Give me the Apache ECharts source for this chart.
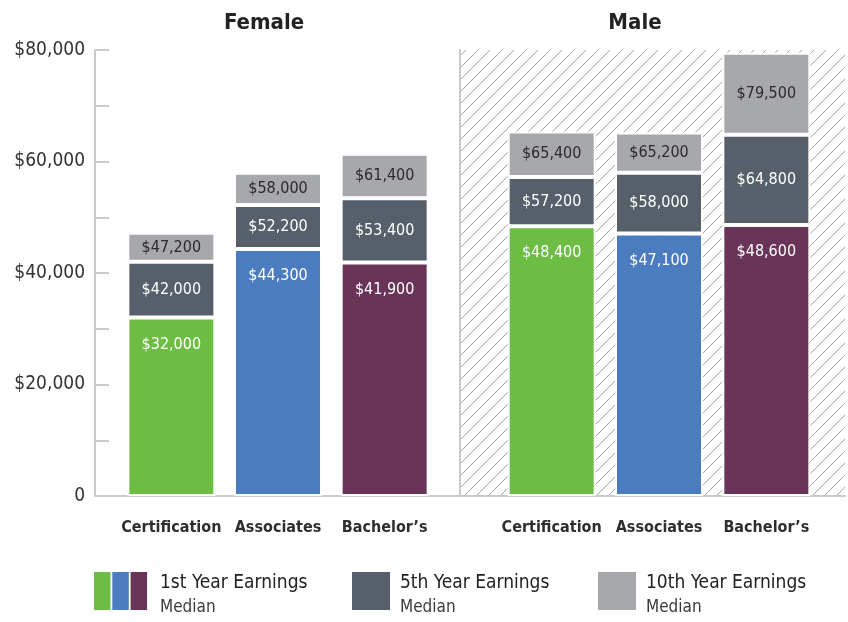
<!DOCTYPE html>
<html>
<head>
<meta charset="utf-8">
<script src="https://cdn.jsdelivr.net/npm/echarts@6/dist/echarts.min.js"></script>
<style>
  html, body { margin: 0; padding: 0; background: #fff; }
  #chart { width: 848px; height: 622px; }
</style>
</head>
<body>
<div id="chart"></div>
<script>
const FONT = "'Liberation Sans Narrow', 'DejaVu Sans Condensed', 'Roboto', sans-serif";

// categories and values (cumulative medians, as printed on the bars)
const categories = ['Certification', 'Associates', 'Bachelor\u2019s'];
const female1st = [32000, 44300, 41900];
const female5th = [42000, 52200, 53400];
const female10th = [47200, 58000, 61400];
const male1st = [48400, 47100, 48600];
const male5th = [57200, 58000, 64800];
const male10th = [65400, 65200, 79500];
const yTicks = [0, 20000, 40000, 60000, 80000];

const firstColors = ['#6dbd45', '#4a7cbf', '#6a3459'];
const darkGray = '#57606a';
const lightGray = '#a7a8ac';

const money = (v) => (v === 0 ? '0' : '$' + v.toLocaleString('en-US'));

function hatchPattern() {
  const c = document.createElement('canvas');
  c.width = 12;
  c.height = 12;
  const ctx = c.getContext('2d');
  ctx.strokeStyle = '#a5a5a5';
  ctx.lineWidth = 1;
  ctx.beginPath();
  ctx.moveTo(-1, 13);
  ctx.lineTo(13, -1);
  ctx.stroke();
  return { image: c, repeat: 'repeat' };
}

function stackSeries(stack, axis, first, fifth, tenth) {
  const base = {
    type: 'bar',
    stack,
    xAxisIndex: axis,
    yAxisIndex: axis,
    barWidth: 88,
    itemStyle: { borderColor: '#fff', borderWidth: 2 },
  };
  const lbl = { show: true, fontFamily: FONT, fontSize: 16 };
  return [
    {
      ...base,
      name: '1st Year Earnings',
      data: first,
      itemStyle: { ...base.itemStyle, color: (p) => firstColors[p.dataIndex] },
      label: { ...lbl, position: 'insideTop', distance: 19, color: '#fff',
        formatter: (p) => money(first[p.dataIndex]) },
    },
    {
      ...base,
      name: '5th Year Earnings',
      data: fifth.map((v, i) => v - first[i]),
      itemStyle: { ...base.itemStyle, color: darkGray },
      label: { ...lbl, position: 'inside', color: '#fff',
        formatter: (p) => money(fifth[p.dataIndex]) },
    },
    {
      ...base,
      name: '10th Year Earnings',
      data: tenth.map((v, i) => v - fifth[i]),
      itemStyle: { ...base.itemStyle, color: lightGray },
      label: { ...lbl, position: 'inside', color: '#2b2b2b',
        formatter: (p) => money(tenth[p.dataIndex]) },
    },
  ];
}

const hiddenY = { type: 'value', min: 0, max: 80000, show: false };
const catAxis = (gridIndex) => ({
  type: 'category',
  gridIndex,
  data: categories,
  axisLine: { show: false },
  axisTick: { show: false },
  axisLabel: { interval: 0, margin: 24, fontFamily: FONT, fontSize: 16, fontWeight: 'bold', color: '#2e2e2e' },
});

function legendItem(x, swatches, title) {
  const multi = swatches.length > 1;
  const children = swatches.map((col, i) => ({
    type: 'rect',
    shape: { x: i * 18.3, y: 0, width: multi ? 16.5 : 38, height: 38 },
    style: { fill: col },
  }));
  const tx = multi ? 66 : 48;
  children.push({
    type: 'text', x: tx, y: 2,
    style: { text: title, fontFamily: FONT, fontSize: 19, fontWeight: 500, fill: '#222' },
  });
  children.push({
    type: 'text', x: tx, y: 27,
    style: { text: 'Median', fontFamily: FONT, fontSize: 17, fill: '#3a3a3a' },
  });
  return { type: 'group', left: x, top: 572, children };
}

const chart = echarts.init(document.getElementById('chart'));
chart.setOption({
  backgroundColor: '#fff',
  animation: false,
  title: [
    { text: 'Female', left: 259, top: 7, textAlign: 'center',
      textStyle: { fontFamily: FONT, fontSize: 22, fontWeight: 'bold', color: '#222' } },
    { text: 'Male', left: 630, top: 7, textAlign: 'center',
      textStyle: { fontFamily: FONT, fontSize: 22, fontWeight: 'bold', color: '#222' } },
  ],
  grid: [
    { left: 95, right: 3, top: 50, bottom: 126 },
    { left: 118, width: 320, top: 50, bottom: 126 },
    { left: 460, right: 3, top: 50, bottom: 126, show: true, borderWidth: 0,
      backgroundColor: hatchPattern() },
    { left: 498, width: 322, top: 50, bottom: 126 },
  ],
  xAxis: [
    { type: 'value', gridIndex: 0, min: 0, max: 1,
      axisLine: { show: true, onZero: false, lineStyle: { color: '#c9cacc', width: 2 } },
      axisTick: { show: false }, axisLabel: { show: false }, splitLine: { show: false } },
    catAxis(1),
    { type: 'value', gridIndex: 2, min: 0, max: 1, show: false },
    catAxis(3),
  ],
  yAxis: [
    { type: 'value', gridIndex: 0, min: 0, max: 80000, interval: 20000,
      axisLine: { show: true, lineStyle: { color: '#c9cacc', width: 2 } },
      axisTick: { show: true, inside: true, length: 14, lineStyle: { color: '#c9cacc', width: 2 } },
      minorTick: { show: true, splitNumber: 2, length: 14, lineStyle: { color: '#c9cacc', width: 2 } },
      splitLine: { show: false },
      axisLabel: { margin: 10, fontFamily: FONT, fontSize: 19, color: '#333',
        formatter: (v) => (yTicks.includes(v) ? money(v) : '') } },
    { ...hiddenY, gridIndex: 1 },
    { type: 'value', gridIndex: 2, min: 0, max: 80000,
      axisLine: { show: true, lineStyle: { color: '#c9cacc', width: 2 } },
      axisTick: { show: false }, axisLabel: { show: false }, splitLine: { show: false } },
    { ...hiddenY, gridIndex: 3 },
  ],
  series: [
    ...stackSeries('female', 1, female1st, female5th, female10th),
    ...stackSeries('male', 3, male1st, male5th, male10th),
  ],
  graphic: [
    legendItem(94, firstColors, '1st Year Earnings'),
    legendItem(352, [darkGray], '5th Year Earnings'),
    legendItem(598, [lightGray], '10th Year Earnings'),
  ],
});
</script>
</body>
</html>
